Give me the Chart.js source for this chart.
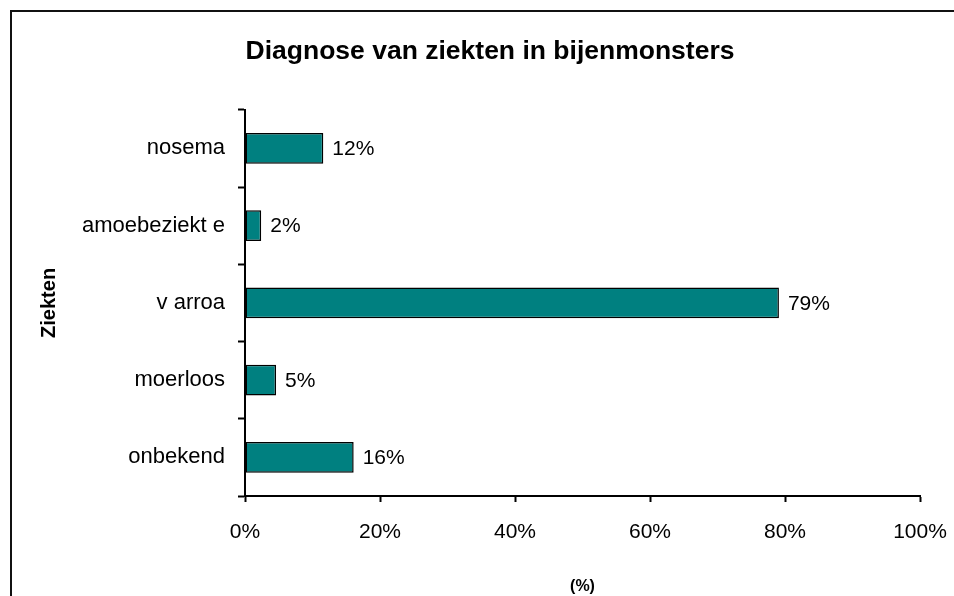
<!DOCTYPE html>
<html>
<head>
<meta charset="utf-8">
<script src="https://cdn.jsdelivr.net/npm/chart.js@4"></script>
<style>
    html, body { margin: 0; padding: 0; background: #fff; }
    #wrap { width: 954px; height: 596px; }
</style>
</head>
<body>
<div id="wrap"><canvas id="chart" width="954" height="596"></canvas></div>
<script>
// Chart data
const categories = ['nosema', 'amoebeziekt e', 'v arroa', 'moerloos', 'onbekend'];
const values = [11.6, 2.4, 79.1, 4.6, 16.1];
const valueLabels = ['12%', '2%', '79%', '5%', '16%'];
const xTicks = [0, 20, 40, 60, 80, 100];

const FONT = "Arial, 'Liberation Sans', sans-serif";

// Outer frame around the whole chart
const framePlugin = {
    id: 'frame',
    beforeDraw(chart) {
        const ctx = chart.ctx;
        ctx.save();
        ctx.strokeStyle = '#111';
        ctx.lineWidth = 2;
        ctx.strokeRect(11, 11, 1000, 1000);
        ctx.restore();
    }
};

// Value labels to the right of each bar
const barLabelPlugin = {
    id: 'barLabels',
    afterDatasetsDraw(chart) {
        const ctx = chart.ctx;
        const meta = chart.getDatasetMeta(0);
        ctx.save();
        ctx.font = '21px ' + FONT;
        ctx.fillStyle = '#000';
        ctx.textAlign = 'left';
        ctx.textBaseline = 'middle';
        meta.data.forEach((bar, i) => {
            ctx.fillText(valueLabels[i], bar.x + 9, bar.y + 1);
        });
        ctx.restore();
    }
};

const ctx = document.getElementById('chart').getContext('2d');
new Chart(ctx, {
    type: 'bar',
    data: {
        labels: categories,
        datasets: [{
            data: values,
            backgroundColor: '#008080',
            borderColor: '#000',
            borderWidth: 1.5,
            borderSkipped: false,
            barPercentage: 0.4,
            categoryPercentage: 1.0
        }]
    },
    options: {
        indexAxis: 'y',
        responsive: false,
        animation: false,
        layout: { padding: { left: 60, right: 34, top: 0, bottom: 0 } },
        plugins: {
            legend: { display: false },
            tooltip: { enabled: false },
            title: {
                display: true,
                text: 'Diagnose van ziekten in bijenmonsters',
                color: '#000',
                font: { family: FONT, size: 26.5, weight: 'bold', lineHeight: 1.2 },
                padding: { top: 36, bottom: 42 }
            }
        },
        scales: {
            x: {
                min: 0,
                max: 100,
                afterBuildTicks(scale) {
                    scale.ticks = xTicks.map(v => ({ value: v }));
                },
                afterFit(scale) {
                    scale.height = 100;
                    scale.paddingLeft = 0;
                    scale.paddingRight = 0;
                },
                grid: {
                    drawOnChartArea: false,
                    drawTicks: true,
                    tickLength: 6,
                    tickColor: '#000',
                    tickWidth: 2
                },
                border: { display: true, color: '#000', width: 2 },
                ticks: {
                    color: '#000',
                    padding: 18,
                    font: { family: FONT, size: 21 },
                    callback: v => v + '%'
                },
                title: {
                    display: true,
                    text: '(%)',
                    color: '#000',
                    font: { family: FONT, size: 16, weight: 'bold' },
                    padding: { top: 20, bottom: 0 }
                }
            },
            y: {
                afterFit(scale) { scale.width = 185; },
                grid: {
                    offset: true,
                    drawOnChartArea: false,
                    drawTicks: true,
                    tickLength: 7,
                    tickColor: '#000',
                    tickWidth: 2
                },
                border: { display: true, color: '#000', width: 2 },
                ticks: {
                    color: '#000',
                    padding: 13,
                    font: { family: FONT, size: 22 }
                },
                title: {
                    display: true,
                    text: 'Ziekten',
                    color: '#000',
                    font: { family: FONT, size: 20, weight: 'bold' },
                    padding: { top: -23, bottom: 0 }
                }
            }
        }
    },
    plugins: [framePlugin, barLabelPlugin]
});
</script>
</body>
</html>
